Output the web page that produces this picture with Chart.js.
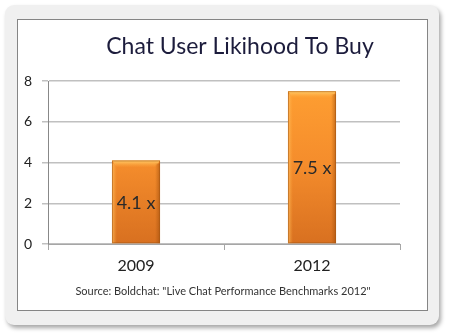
<!DOCTYPE html>
<html>
<head>
<meta charset="utf-8">
<script src="https://cdn.jsdelivr.net/npm/chart.js@4/dist/chart.umd.min.js"></script>
<style>
  html, body { margin: 0; padding: 0; background: #fff; }
  #wrap { position: relative; width: 451px; height: 336px; overflow: hidden; }
  #panel {
    position: absolute; left: 5px; top: 5px; width: 434px; height: 320px;
    background: #f0f0f0; border-radius: 9px;
    box-shadow: 2px 3px 4px rgba(0,0,0,0.35);
  }
  #inner {
    position: absolute; left: 17px; top: 19px; width: 409px; height: 290px;
    background: #fff; border: 1px solid #858585;
  }
  canvas { position: absolute; left: 0; top: 0; }
</style>
</head>
<body>
<div id="wrap">
  <div id="panel"></div>
  <div id="inner"></div>
  <canvas id="likeChart" width="451" height="336"></canvas>
</div>
<script>
// 차트 데이터
const years = ['2009', '2012'];
const likelihood = [4.1, 7.5];
const barLabels = ['4.1 x', '7.5 x'];
const yMax = 8;
const yStep = 2;

const chartTitle = 'Chat User Likihood To Buy';
const sourceNote = 'Source: Boldchat: "Live Chat Performance Benchmarks 2012"';

// 막대 그라데이션
function barGradient(ctx) {
  const chart = ctx.chart;
  const area = chart.chartArea;
  if (!area) return '#f08a2a';
  const g = chart.ctx.createLinearGradient(0, area.top, 0, area.bottom);
  g.addColorStop(0, '#ffa032');
  g.addColorStop(0.5, '#f58d2c');
  g.addColorStop(1, '#d87020');
  return g;
}

// 막대 입체 효과 + 값 라벨
const bevelPlugin = {
  id: 'bevel',
  afterDatasetsDraw(chart) {
    const c = chart.ctx;
    const meta = chart.getDatasetMeta(0);
    meta.data.forEach((bar, i) => {
      const left = bar.x - bar.width / 2;
      const right = bar.x + bar.width / 2;
      const top = bar.y;
      const bottom = bar.base;
      c.save();
      // 윗면 하이라이트
      const tg = c.createLinearGradient(0, top, 0, top + 7);
      tg.addColorStop(0, '#ffd070');
      tg.addColorStop(1, 'rgba(255,170,60,0)');
      c.fillStyle = tg;
      c.beginPath();
      c.moveTo(left, top);
      c.lineTo(right, top);
      c.lineTo(right - 5, top + 7);
      c.lineTo(left + 5, top + 7);
      c.closePath();
      c.fill();
      // 왼쪽 면
      const lg = c.createLinearGradient(left, 0, left + 5, 0);
      lg.addColorStop(0, 'rgba(255,200,110,0.7)');
      lg.addColorStop(1, 'rgba(255,170,60,0)');
      c.fillStyle = lg;
      c.fillRect(left, top + 3, 5, bottom - top - 3);
      // 오른쪽 면
      const rg = c.createLinearGradient(right - 5, 0, right, 0);
      rg.addColorStop(0, 'rgba(160,80,10,0)');
      rg.addColorStop(1, 'rgba(150,70,10,0.55)');
      c.fillStyle = rg;
      c.fillRect(right - 5, top + 3, 5, bottom - top - 3);
      // 테두리
      c.strokeStyle = 'rgba(170,90,20,0.6)';
      c.lineWidth = 1;
      c.strokeRect(left + 0.5, top + 0.5, bar.width - 1, bottom - top - 1);
      // 값 라벨
      c.fillStyle = '#2a2a2a';
      c.font = '18px Lato';
      c.textAlign = 'center';
      c.textBaseline = 'middle';
      c.fillText(barLabels[i], bar.x, (top + bottom) / 2 + 1);
      c.restore();
    });
  }
};

// 제목과 출처
const textPlugin = {
  id: 'texts',
  afterDraw(chart) {
    const c = chart.ctx;
    const area = chart.chartArea;
    c.save();
    c.textAlign = 'center';
    c.textBaseline = 'middle';
    c.fillStyle = '#1c1c3c';
    c.font = '23px Lato';
    c.fillText(chartTitle, (area.left + area.right) / 2 + 16, 47);
    c.fillStyle = '#333';
    c.font = '11px Lato';
    c.fillText(sourceNote, (area.left + area.right) / 2 - 1, 291);
    c.restore();
  }
};

const likeChart = new Chart(document.getElementById('likeChart'), {
  type: 'bar',
  data: {
    labels: years,
    datasets: [{
      label: 'Likelihood',
      data: likelihood,
      backgroundColor: barGradient,
      borderWidth: 0,
      categoryPercentage: 1,
      barPercentage: 0.273
    }]
  },
  options: {
    responsive: false,
    animation: false,
    layout: {
      autoPadding: false,
      padding: { left: 0, right: 51, top: 81, bottom: 52 }
    },
    scales: {
      x: {
        afterFit(scale) { scale.height = 40; },
        grid: {
          display: true,
          drawOnChartArea: false,
          drawTicks: true,
          tickLength: 6,
          color: '#a6a6a6'
        },
        border: { color: '#a6a6a6' },
        ticks: {
          color: '#222',
          font: { family: 'Lato', size: 16 },
          padding: 6
        }
      },
      y: {
        min: 0,
        max: yMax,
        afterFit(scale) { scale.width = 48; },
        grid: {
          color: '#c0c0c0',
          lineWidth: 1.5,
          tickLength: 6
        },
        border: { color: '#888' },
        ticks: {
          stepSize: yStep,
          color: '#222',
          font: { family: 'Lato', size: 14 },
          padding: 10
        }
      }
    },
    plugins: {
      legend: { display: false },
      title: { display: false },
      tooltip: { enabled: false }
    }
  },
  plugins: [bevelPlugin, textPlugin]
});
</script>
</body>
</html>
